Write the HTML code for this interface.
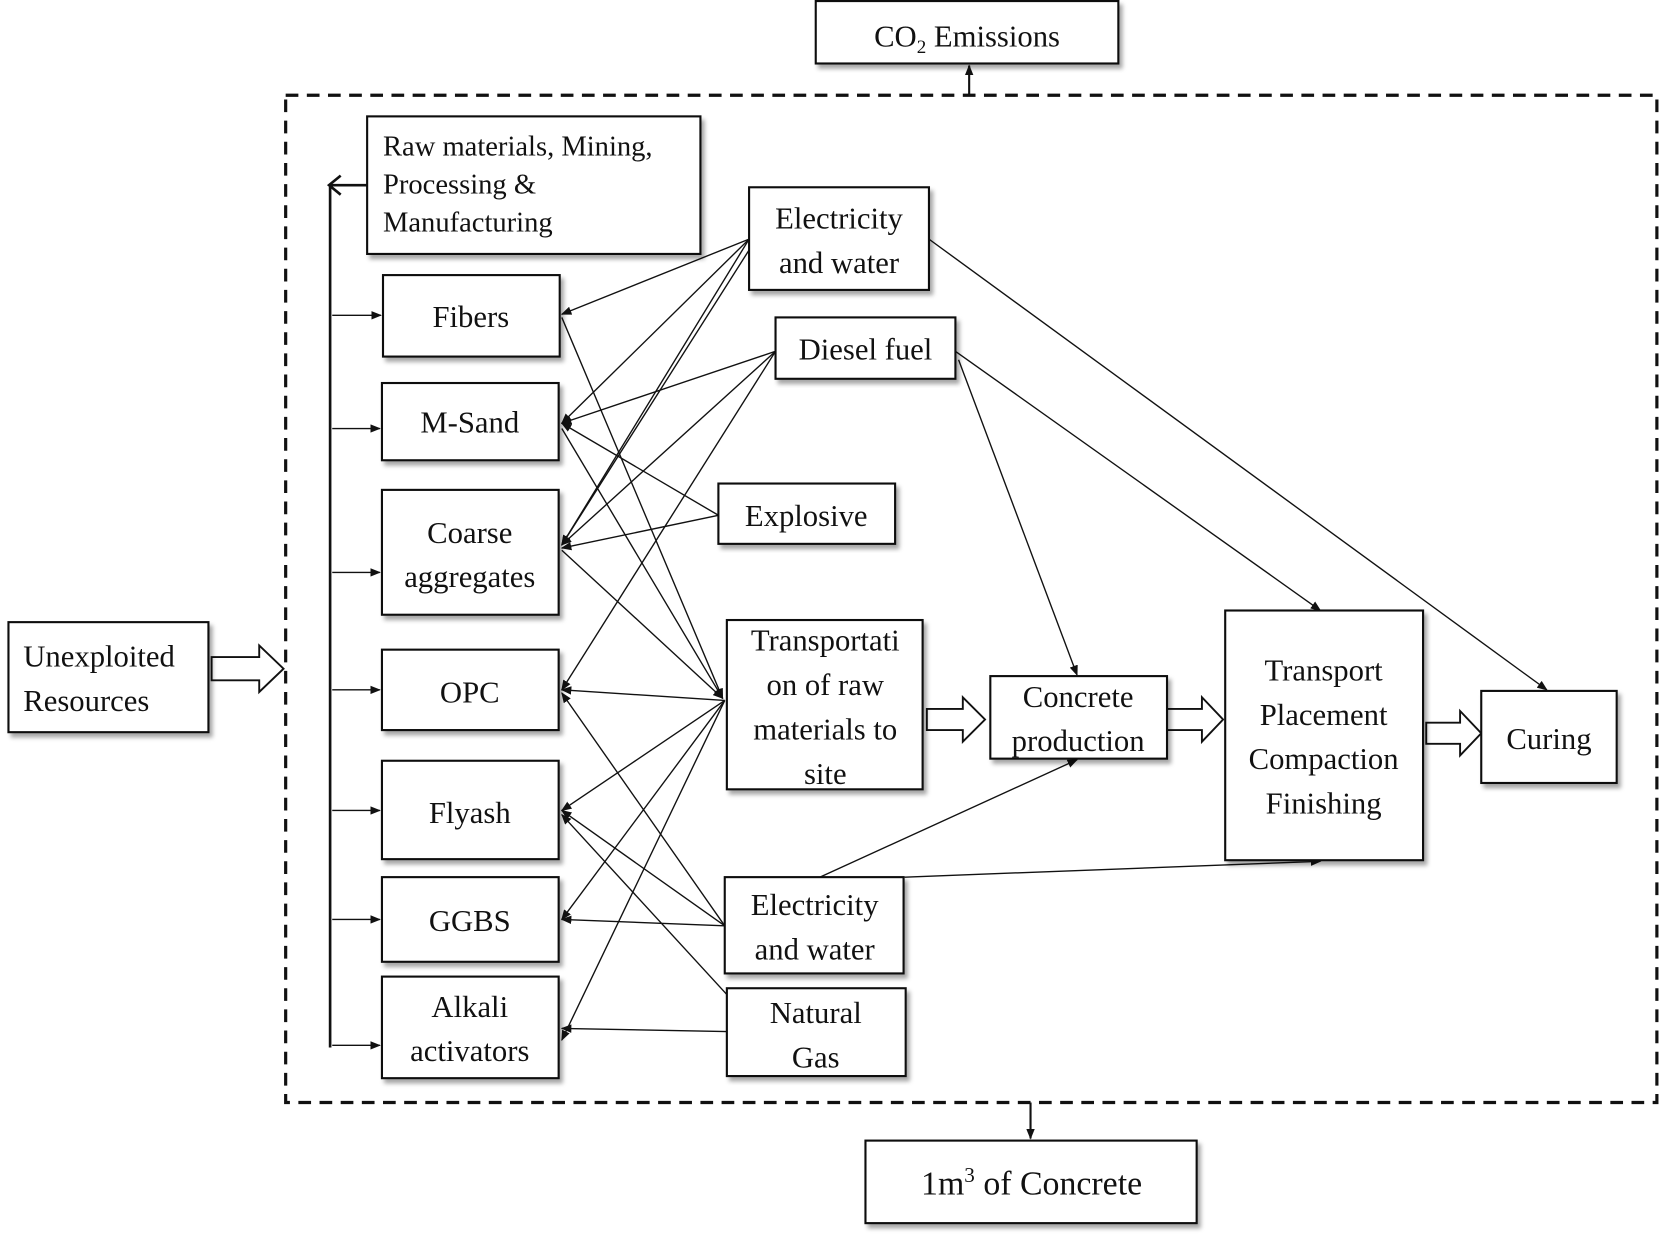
<!DOCTYPE html>
<html><head><meta charset="utf-8"><style>
html,body{margin:0;padding:0;background:#fff;}
svg{display:block;}
text{font-family:"Liberation Serif",serif;font-size:29px;fill:#111;text-anchor:middle;}
.b{fill:#fff;stroke:#111;stroke-width:2;filter:url(#sh);}
.l{stroke:#111;stroke-width:1.3;fill:none;}
</style></head><body>
<svg width="1659" height="1239" viewBox="0 0 1568 1171" preserveAspectRatio="none" xmlns="http://www.w3.org/2000/svg">
<defs>
<filter id="sh" x="-5%" y="-5%" width="115%" height="120%"><feDropShadow dx="3" dy="4" stdDeviation="2" flood-color="#000" flood-opacity="0.35"/></filter>
<marker id="a" markerWidth="10" markerHeight="8" refX="9" refY="4" orient="auto" markerUnits="userSpaceOnUse"><path d="M0,0L10,4L0,8z" fill="#111"/></marker>
</defs>
<rect x="270" y="90" width="1296" height="952" fill="none" stroke="#111" stroke-width="3" stroke-dasharray="12,8"/>
<line class="l" x1="916" y1="90" x2="916" y2="62" marker-end="url(#a)" style="stroke-width:2"/>
<line class="l" x1="974" y1="1042" x2="974" y2="1076" marker-end="url(#a)" style="stroke-width:2"/>
<!-- left bus -->
<line class="l" x1="312" y1="175" x2="312" y2="990" style="stroke-width:2.5"/>
<line class="l" x1="347" y1="175" x2="312" y2="175" style="stroke-width:2.5"/>
<path d="M322,166L311,175L322,184" class="l" style="stroke-width:2.5"/>
<g style="stroke-width:1.6">
<line class="l" x1="314" y1="298" x2="360" y2="298" marker-end="url(#a)"/>
<line class="l" x1="314" y1="405" x2="359" y2="405" marker-end="url(#a)"/>
<line class="l" x1="314" y1="541" x2="359" y2="541" marker-end="url(#a)"/>
<line class="l" x1="314" y1="652" x2="359" y2="652" marker-end="url(#a)"/>
<line class="l" x1="314" y1="766" x2="359" y2="766" marker-end="url(#a)"/>
<line class="l" x1="314" y1="869" x2="359" y2="869" marker-end="url(#a)"/>
<line class="l" x1="314" y1="988" x2="359" y2="988" marker-end="url(#a)"/>
</g>
<!-- connectors -->
<line class="l" x1="708" y1="226" x2="531" y2="297" marker-end="url(#a)"/>
<line class="l" x1="708" y1="226" x2="531" y2="400" marker-end="url(#a)"/>
<line class="l" x1="708" y1="226" x2="531" y2="515" marker-end="url(#a)"/>
<line class="l" x1="712" y1="230" x2="531" y2="515" marker-end="url(#a)"/>
<line class="l" x1="733" y1="332" x2="531" y2="400" marker-end="url(#a)"/>
<line class="l" x1="733" y1="332" x2="531" y2="515" marker-end="url(#a)"/>
<line class="l" x1="733" y1="332" x2="531" y2="652" marker-end="url(#a)"/>
<line class="l" x1="679" y1="487" x2="531" y2="400" marker-end="url(#a)"/>
<line class="l" x1="679" y1="487" x2="531" y2="518" marker-end="url(#a)"/>
<line class="l" x1="531" y1="300" x2="683" y2="660" marker-end="url(#a)"/>
<line class="l" x1="531" y1="405" x2="683" y2="660" marker-end="url(#a)"/>
<line class="l" x1="531" y1="520" x2="683" y2="660" marker-end="url(#a)"/>
<line class="l" x1="685" y1="662" x2="531" y2="652" marker-end="url(#a)"/>
<line class="l" x1="685" y1="662" x2="531" y2="766" marker-end="url(#a)"/>
<line class="l" x1="685" y1="662" x2="531" y2="869" marker-end="url(#a)"/>
<line class="l" x1="685" y1="662" x2="531" y2="983" marker-end="url(#a)"/>
<line class="l" x1="685" y1="875" x2="531" y2="655" marker-end="url(#a)"/>
<line class="l" x1="685" y1="875" x2="531" y2="766" marker-end="url(#a)"/>
<line class="l" x1="685" y1="875" x2="531" y2="869" marker-end="url(#a)"/>
<line class="l" x1="687" y1="975" x2="531" y2="972" marker-end="url(#a)"/>
<line class="l" x1="687" y1="940" x2="531" y2="770" marker-end="url(#a)"/>
<line class="l" x1="878" y1="226" x2="1462" y2="652" marker-end="url(#a)"/>
<line class="l" x1="903" y1="332" x2="1248" y2="577" marker-end="url(#a)"/>
<line class="l" x1="906" y1="340" x2="1018" y2="638" marker-end="url(#a)"/>
<line class="l" x1="775" y1="829" x2="1018" y2="718" marker-end="url(#a)"/>
<line class="l" x1="855" y1="829" x2="1248" y2="814" marker-end="url(#a)"/>
<!-- hollow arrows -->
<g fill="#fff" stroke="#111" stroke-width="1.8">
<path d="M200,621H245V610L268,632L245,654V643H200z"/>
<path d="M876,670H910V659L931,680L910,701V690H876z"/>
<path d="M1103,670H1136V659L1156,680L1136,701V690H1103z"/>
<path d="M1348,683H1380V672L1400,693L1380,714V703H1348z"/>
</g>
<!-- boxes -->
<rect class="b" x="771" y="1" width="286" height="59"/>
<text x="914" y="44">CO<tspan font-size="18" dy="6">2</tspan><tspan dy="-6"> Emissions</tspan></text>
<rect class="b" x="347" y="110" width="315" height="130"/>
<text x="362" y="147" style="text-anchor:start;font-size:27px">Raw materials, Mining,</text>
<text x="362" y="183" style="text-anchor:start;font-size:27px">Processing &amp;</text>
<text x="362" y="219" style="text-anchor:start;font-size:27px">Manufacturing</text>
<rect class="b" x="708" y="177" width="170" height="97"/>
<text x="793" y="216">Electricity</text><text x="793" y="258">and water</text>
<rect class="b" x="362" y="260" width="167" height="77"/><text x="445" y="309">Fibers</text>
<rect class="b" x="733" y="300" width="170" height="58"/><text x="818" y="340">Diesel fuel</text>
<rect class="b" x="361" y="362" width="167" height="73"/><text x="444" y="409">M-Sand</text>
<rect class="b" x="679" y="457" width="167" height="57"/><text x="762" y="497">Explosive</text>
<rect class="b" x="361" y="463" width="167" height="118"/><text x="444" y="513">Coarse</text><text x="444" y="555">aggregates</text>
<rect class="b" x="687" y="586" width="185" height="160"/>
<text x="780" y="615">Transportati</text><text x="780" y="657">on of raw</text><text x="780" y="699">materials to</text><text x="780" y="741">site</text>
<rect class="b" x="361" y="614" width="167" height="76"/><text x="444" y="664">OPC</text>
<rect class="b" x="936" y="639" width="167" height="78"/><text x="1019" y="668">Concrete</text><text x="1019" y="710">production</text>
<rect class="b" x="1158" y="577" width="187" height="236"/>
<text x="1251" y="643">Transport</text><text x="1251" y="685">Placement</text><text x="1251" y="727">Compaction</text><text x="1251" y="769">Finishing</text>
<rect class="b" x="1400" y="653" width="128" height="87"/><text x="1464" y="708">Curing</text>
<rect class="b" x="361" y="719" width="167" height="93"/><text x="444" y="778">Flyash</text>
<rect class="b" x="361" y="829" width="167" height="80"/><text x="444" y="880">GGBS</text>
<rect class="b" x="685" y="829" width="169" height="91"/><text x="770" y="865">Electricity</text><text x="770" y="907">and water</text>
<rect class="b" x="361" y="923" width="167" height="96"/><text x="444" y="961">Alkali</text><text x="444" y="1003">activators</text>
<rect class="b" x="687" y="934" width="169" height="83"/><text x="771" y="967">Natural</text><text x="771" y="1009">Gas</text>
<rect class="b" x="8" y="588" width="189" height="104"/>
<text x="22" y="630" style="text-anchor:start">Unexploited</text><text x="22" y="672" style="text-anchor:start">Resources</text>
<rect class="b" x="818" y="1078" width="313" height="78"/>
<text x="975" y="1129" style="font-size:32px">1m<tspan font-size="20" dy="-12">3</tspan><tspan dy="12"> of Concrete</tspan></text>
</svg>
</body></html>
